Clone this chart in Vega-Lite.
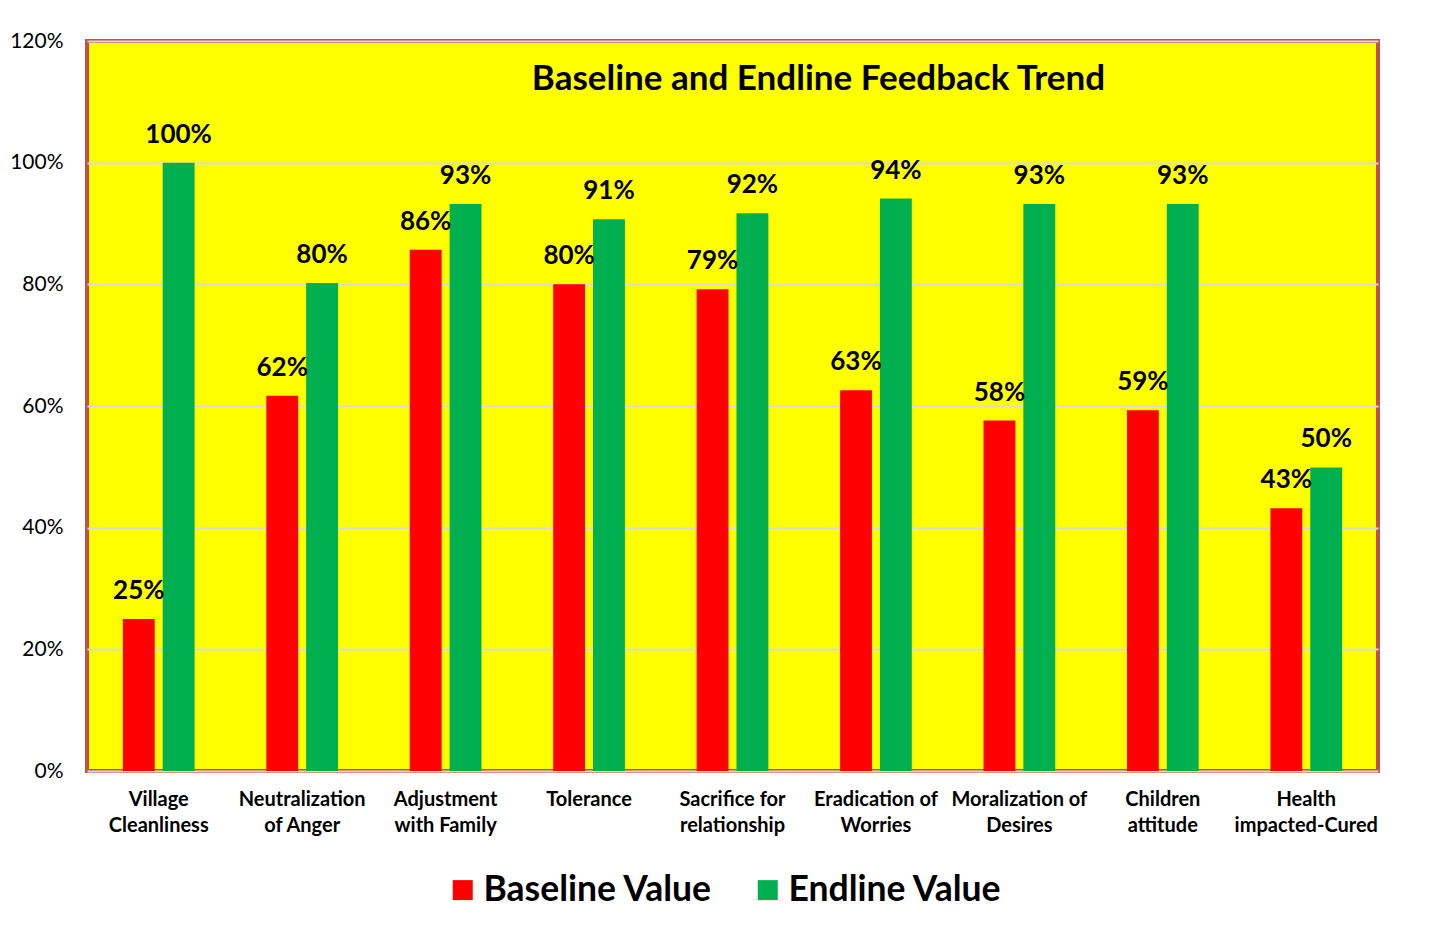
{
  "$schema": "https://vega.github.io/schema/vega-lite/v6.json",
  "autosize": "none",
  "width": 1291,
  "height": 730,
  "padding": {"left": 87, "top": 41, "right": 64, "bottom": 155},
  "background": "white",
  "title": {
    "text": "Baseline and Endline Feedback Trend",
    "anchor": "middle",
    "frame": "group",
    "dx": 86,
    "offset": -95,
    "baseline": "alphabetic",
    "fontSize": 35,
    "font": "Lato",
    "fontWeight": "bold",
    "color": "black"
  },
  "data": {
    "values": [
      {"category": "Village\nCleanliness", "series": "Baseline Value", "value": 0.25},
      {"category": "Village\nCleanliness", "series": "Endline Value", "value": 1.0},
      {"category": "Neutralization\nof Anger", "series": "Baseline Value", "value": 0.617},
      {"category": "Neutralization\nof Anger", "series": "Endline Value", "value": 0.802},
      {"category": "Adjustment\nwith Family", "series": "Baseline Value", "value": 0.857},
      {"category": "Adjustment\nwith Family", "series": "Endline Value", "value": 0.932},
      {"category": "Tolerance", "series": "Baseline Value", "value": 0.8},
      {"category": "Tolerance", "series": "Endline Value", "value": 0.907},
      {"category": "Sacrifice for\nrelationship", "series": "Baseline Value", "value": 0.792},
      {"category": "Sacrifice for\nrelationship", "series": "Endline Value", "value": 0.917},
      {"category": "Eradication of\nWorries", "series": "Baseline Value", "value": 0.626},
      {"category": "Eradication of\nWorries", "series": "Endline Value", "value": 0.941},
      {"category": "Moralization of\nDesires", "series": "Baseline Value", "value": 0.576},
      {"category": "Moralization of\nDesires", "series": "Endline Value", "value": 0.932},
      {"category": "Children\nattitude", "series": "Baseline Value", "value": 0.593},
      {"category": "Children\nattitude", "series": "Endline Value", "value": 0.932},
      {"category": "Health\nimpacted-Cured", "series": "Baseline Value", "value": 0.432},
      {"category": "Health\nimpacted-Cured", "series": "Endline Value", "value": 0.499}
    ]
  },
  "encoding": {
    "x": {
      "field": "category",
      "type": "nominal",
      "sort": null,
      "scale": {"paddingInner": 0.5, "paddingOuter": 0.25},
      "axis": {
        "title": null,
        "labelAngle": 0,
        "labelExpr": "split(datum.label, '\\n')",
        "labelFont": "Lato",
        "labelFontSize": 20,
        "labelFontWeight": "bold",
        "labelColor": "black",
        "labelLineHeight": 26,
        "labelBaseline": "top",
        "labelPadding": 18,
        "labelLimit": 0,
        "domain": false,
        "ticks": false
      }
    },
    "xOffset": {
      "field": "series",
      "type": "nominal",
      "scale": {"paddingInner": 0.2, "paddingOuter": 0}
    },
    "y": {
      "field": "value",
      "type": "quantitative",
      "scale": {"domain": [0, 1.2], "nice": false},
      "axis": {
        "title": null,
        "format": ".0%",
        "values": [0, 0.2, 0.4, 0.6, 0.8, 1.0, 1.2],
        "labelFont": "Lato",
        "labelFontSize": 21,
        "labelColor": "black",
        "labelPadding": 24,
        "labelBaseline": "middle",
        "domain": false,
        "ticks": false,
        "gridColor": "#D9D9D9",
        "gridWidth": 2
      }
    },
    "color": {
      "field": "series",
      "type": "nominal",
      "scale": {"domain": ["Baseline Value", "Endline Value"], "range": ["#FF0000", "#00B050"]},
      "legend": {
        "title": null,
        "orient": "none",
        "legendX": 358,
        "legendY": 831,
        "direction": "horizontal",
        "symbolType": "square",
        "symbolSize": 400,
        "symbolStrokeWidth": 0,
        "labelFont": "Lato",
        "labelFontSize": 35.5,
        "labelFontWeight": "bold",
        "labelColor": "black",
        "labelOffset": 3,
        "labelLimit": 0,
        "columnPadding": 37
      }
    }
  },
  "layer": [
    {"mark": {"type": "bar"}},
    {
      "mark": {
        "type": "text",
        "baseline": "alphabetic",
        "dy": -20,
        "font": "Lato",
        "fontSize": 26,
        "fontWeight": "bold",
        "color": "black"
      },
      "encoding": {
        "text": {"field": "value", "type": "quantitative", "format": ".0%"},
        "color": {"value": "black"}
      }
    }
  ],
  "config": {
    "view": {"fill": "#FFFF00", "stroke": "#C0504D", "strokeWidth": 4}
  }
}
